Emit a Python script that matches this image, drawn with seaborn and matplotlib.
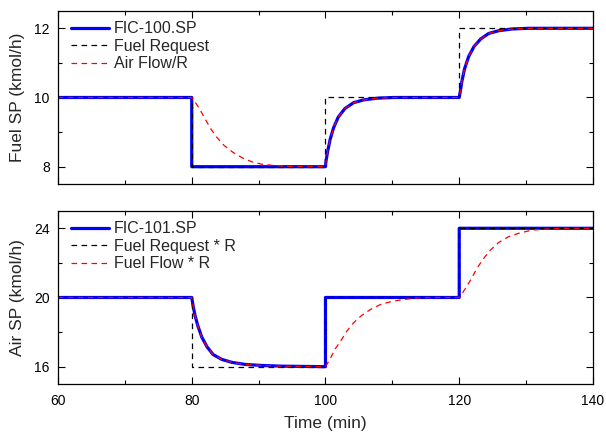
import matplotlib
matplotlib.use("Agg")
import matplotlib.pyplot as plt
import seaborn as sns
import pandas as pd
from matplotlib.ticker import MultipleLocator

# ---------------- data ----------------
# Top panel: Fuel SP
fic100_t = [60, 80, 80.0, 100, 100.07, 100.3, 100.7, 101.2, 101.9, 102.9, 104.2, 105.7, 107.7, 110.2,
            120, 120.16, 120.4, 120.8, 121.4, 122.2, 123.2, 124.4, 125.9, 127.9, 130.4, 140]
fic100_v = [10, 10, 8, 8, 8.15, 8.42, 8.79, 9.12, 9.43, 9.68, 9.85, 9.93, 9.98, 10.0,
            10.0, 10.18, 10.47, 10.83, 11.18, 11.47, 11.69, 11.85, 11.93, 11.98, 12.0, 12.0]

fuel_req_t = [60, 80, 80, 100, 100, 120, 120, 140]
fuel_req_v = [10, 10, 8, 8, 10, 10, 12, 12]

airflow_r_t = [60, 80, 80.33, 81.2, 82.0, 82.8, 83.7, 84.8, 86.2, 87.6, 89.0, 90.5, 92.5, 95, 100,
               100.07, 100.3, 100.7, 101.2, 101.9, 102.9, 104.2, 105.7, 107.7, 110.2,
               120, 120.16, 120.4, 120.8, 121.4, 122.2, 123.2, 124.4, 125.9, 127.9, 130.4, 140]
airflow_r_v = [10, 10, 9.92, 9.66, 9.38, 9.11, 8.86, 8.62, 8.41, 8.25, 8.14, 8.07, 8.03, 8.0, 8.0,
               8.15, 8.42, 8.79, 9.12, 9.43, 9.68, 9.85, 9.93, 9.98, 10.0,
               10.0, 10.18, 10.47, 10.83, 11.18, 11.47, 11.69, 11.85, 11.93, 11.98, 12.0, 12.0]

# Bottom panel: Air SP
fic101_t = [60, 80, 80.2, 80.5, 80.9, 81.5, 82.3, 83.2, 84.5, 86.0, 88.0, 90.5, 93.5, 100, 100, 120, 120, 140]
fic101_v = [20, 20, 19.52, 18.95, 18.38, 17.71, 17.14, 16.70, 16.42, 16.25, 16.13, 16.07, 16.03, 16.0, 20, 20, 24, 24]

fuel_req_r_t = [60, 80, 80, 100, 100, 120, 120, 140]
fuel_req_r_v = [20, 20, 16, 16, 20, 20, 24, 24]

fuelflow_r_t = [60, 80, 80.2, 80.5, 80.9, 81.5, 82.3, 83.2, 84.5, 86.0, 88.0, 90.5, 93.5, 100,
                100.7, 101.4, 102.3, 103.2, 104.2, 105.4, 106.7, 108.2, 109.6, 111.4, 113.6, 116.1, 120,
                120.16, 121.0, 121.9, 122.6, 123.6, 124.6, 125.9, 127.4, 128.9, 130.9, 133.4, 135.9, 140]
fuelflow_r_v = [20, 20, 19.52, 18.95, 18.38, 17.71, 17.14, 16.70, 16.42, 16.25, 16.13, 16.07, 16.03, 16.0,
                16.45, 17.0, 17.5, 18.06, 18.54, 18.96, 19.3, 19.59, 19.74, 19.87, 19.97, 20.0, 20.0,
                20.06, 20.57, 21.14, 21.66, 22.23, 22.72, 23.18, 23.52, 23.71, 23.90, 23.96, 24.0, 24.0]

top_labels = ["FIC-100.SP", "Fuel Request", "Air Flow/R"]
bot_labels = ["FIC-101.SP", "Fuel Request * R", "Fuel Flow * R"]
x_ticks = [60, 80, 100, 120, 140]

# ---------------- style ----------------
sns.set_style("ticks")
plt.rcParams["font.family"] = ["Liberation Sans", "DejaVu Sans"]

fig = plt.figure(figsize=(6.06, 4.36), dpi=100)
ax1 = fig.add_axes([0.0957, 0.578, 0.8828, 0.3968])
ax2 = fig.add_axes([0.0957, 0.1193, 0.8828, 0.3968])

BLUE = "#0000FF"
BLACK = "#000000"
RED = "#FF0000"


def draw(ax, t_sp, v_sp, t_req, v_req, t_fl, v_fl, labels):
    sns.lineplot(x=t_sp, y=v_sp, ax=ax, estimator=None, sort=False, color=BLUE,
                 linewidth=2.3, label=labels[0])
    sns.lineplot(x=t_req, y=v_req, ax=ax, estimator=None, sort=False, color=BLACK,
                 linewidth=0.9, dashes=False, label=labels[1])
    sns.lineplot(x=t_fl, y=v_fl, ax=ax, estimator=None, sort=False, color=RED,
                 linewidth=0.9, dashes=False, label=labels[2])
    ax.lines[1].set_dashes((4.5, 3.5))
    ax.lines[2].set_dashes((4.5, 3.5))
    leg = ax.legend(loc="upper left", frameon=False, fontsize=11.5, handlelength=2.4,
                    handletextpad=0.3, labelspacing=0.15, borderaxespad=0.25,
                    bbox_to_anchor=(0.005, 1.0))
    hl = leg.legend_handles if hasattr(leg, "legend_handles") else leg.legendHandles
    hl[1].set_dashes((4.5, 3.5))
    hl[2].set_dashes((4.5, 3.5))
    ax.set_xlim(60, 140)
    ax.xaxis.set_major_locator(MultipleLocator(20))
    ax.xaxis.set_minor_locator(MultipleLocator(10))
    for s in ax.spines.values():
        s.set_visible(True)
        s.set_linewidth(0.9)
        s.set_color("black")
    ax.tick_params(which="both", direction="in", top=True, right=True, colors="black",
                   labelsize=10, width=0.8)
    ax.tick_params(which="major", length=5)
    ax.tick_params(which="minor", length=3)
    ax.tick_params(axis="x", pad=7)
    ax.tick_params(axis="y", pad=6)


draw(ax1, fic100_t, fic100_v, fuel_req_t, fuel_req_v, airflow_r_t, airflow_r_v, top_labels)
draw(ax2, fic101_t, fic101_v, fuel_req_r_t, fuel_req_r_v, fuelflow_r_t, fuelflow_r_v, bot_labels)

ax1.set_ylim(7.5, 12.5)
ax1.yaxis.set_major_locator(MultipleLocator(2))
ax1.yaxis.set_minor_locator(MultipleLocator(1))
ax1.set_yticks([8, 10, 12])
ax1.tick_params(axis="x", labelbottom=False)
ax1.set_xlabel("")
ax1.set_ylabel("Fuel SP (kmol/h)", fontsize=12.5)

ax2.set_ylim(15, 25)
ax2.set_yticks([16, 20, 24])
ax2.yaxis.set_minor_locator(MultipleLocator(2))
ax2.set_xticks(x_ticks)
ax2.set_xlabel("Time (min)", fontsize=12.5, labelpad=6)
ax2.set_ylabel("Air SP (kmol/h)", fontsize=12.5)

ax1.yaxis.set_label_coords(-0.062, 0.5)
ax2.yaxis.set_label_coords(-0.062, 0.5)

fig.savefig("out.png", dpi=100)
